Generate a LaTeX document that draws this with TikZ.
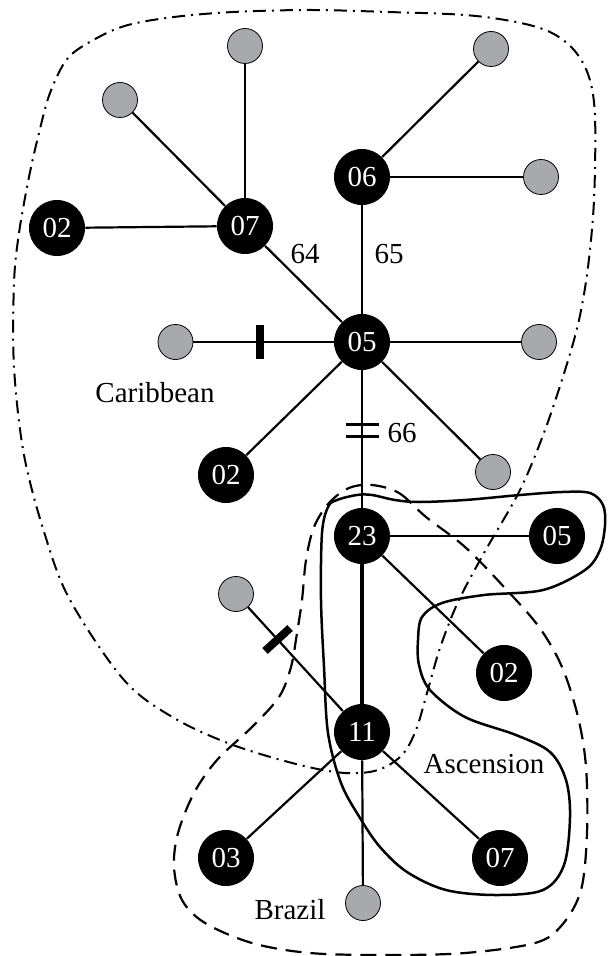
\documentclass[tikz,border=0pt]{standalone}
\usepackage{fontspec}
\setmainfont{Liberation Serif}
\definecolor{haplogray}{HTML}{A7A9AC}
\begin{document}
\begin{tikzpicture}[x=0.5pt, y=-0.5pt,
  hap/.style={circle, fill=black, text=white, minimum size=28pt, inner sep=0pt,
    font=\fontsize{14.5}{14.5}\selectfont},
  miss/.style={circle, draw=black, line width=0.4pt, fill=haplogray,
    minimum size=17.5pt, inner sep=0pt},
  link/.style={line width=1.1pt},
  stem/.style={line width=2.3pt},
  tickbar/.style={fill=black, inner sep=0pt, minimum width=4pt, minimum height=17pt, sloped},
  thinbar/.style={fill=black, inner sep=0pt, minimum width=1.4pt, minimum height=16.5pt, sloped},
  lbl/.style={font=\fontsize{14.5}{14.5}\selectfont, inner sep=0pt},
  dashdotline/.style={line width=1pt, dash pattern=on 6.5pt off 3pt on 1pt off 3pt},
  dashline/.style={line width=1.1pt, dash pattern=on 8pt off 4.5pt},
  solidline/.style={line width=1.25pt}
]
\useasboundingbox (0,0) rectangle (607,956);

% Caribbean region (dash-dot)
\draw[dashdotline] plot[smooth cycle, tension=0.55] coordinates {
  (14,283) (19,233) (29,177) (39,133) (50,93) (68,58) (97,38) (128,25) (174,17)
  (233,12) (310,10) (388,12) (465,15) (516,22) (550,32) (574,50) (589,77)
  (595,117) (594,200) (588,267) (579,320) (566,367) (545,430) (520,490)
  (484,553) (458,602) (440,648) (427,693) (416,730) (402,755) (378,770)
  (345,773) (300,765) (233,745) (174,718) (124,680) (70,600) (45,535)
  (24,455) (14,367)};

% Brazil region (dashed)
\draw[dashline] plot[smooth cycle, tension=0.55] coordinates {
  (372,485) (399,493) (426,517) (465,547) (504,587) (539,627) (562,667)
  (578,717) (586,767) (587,833) (581,890) (562,925) (535,943) (465,953)
  (388,955) (310,953) (252,943) (205,923) (182,900) (174,867) (178,833)
  (194,793) (217,760) (252,727) (279,697) (291,667) (297,633) (302,600)
  (306,560) (314,527) (329,503) (349,488)};

% Ascension region (solid)
\draw[solidline] plot[smooth cycle, tension=0.55] coordinates {
  (337,500) (357,495) (372,495) (395,500) (419,502) (465,500) (520,495)
  (562,492) (590,493) (603,505) (605,525) (600,550) (585,570) (543,590)
  (484,595) (442,603) (422,617) (418,640) (419,665) (430,690) (465,717)
  (516,735) (550,752) (566,780) (570,817) (564,865) (543,890) (496,895)
  (446,890) (407,872) (380,847) (360,818) (341,783) (328,733) (324,667)
  (321,600) (322,533) (328,507)};

% haplotypes
\node[hap] (h07a) at (245,226) {07};
\node[hap] (h02a) at (57,228) {02};
\node[hap] (h06)  at (362,177) {06};
\node[hap] (h05a) at (362,342) {05};
\node[hap] (h02b) at (226,475) {02};
\node[hap] (h23)  at (362,536) {23};
\node[hap] (h05b) at (557,536) {05};
\node[hap] (h02c) at (504,673) {02};
\node[hap] (h11)  at (362,732) {11};
\node[hap] (h03)  at (226,858) {03};
\node[hap] (h07b) at (500,858) {07};

% missing / unsampled haplotypes
\node[miss] (m1) at (245,46) {};
\node[miss] (m2) at (120,100) {};
\node[miss] (m3) at (491,49) {};
\node[miss] (m4) at (541,177) {};
\node[miss] (m5) at (175.5,342) {};
\node[miss] (m6) at (539,342) {};
\node[miss] (m7) at (493,472) {};
\node[miss] (m8) at (236,594) {};
\node[miss] (m9) at (363,903) {};

% network links
\draw[link] (h02a) -- (h07a);
\draw[link] (m1) -- (h07a);
\draw[link] (m2) -- (h07a);
\draw[link] (h07a) -- (h05a);
\draw[link] (m3) -- (h06);
\draw[link] (h06) -- (m4);
\draw[link] (h06) -- (h05a);
\draw[link] (m5) -- node[tickbar, pos=0.475] {} (h05a);
\draw[link] (h05a) -- (m6);
\draw[link] (h05a) -- (h02b);
\draw[link] (h05a) -- (m7);
\draw[link] (h05a) -- node[thinbar, pos=0.394] {} node[thinbar, pos=0.482] {} (h23);
\draw[link] (h23) -- (h05b);
\draw[link] (h23) -- (h02c);
\draw[stem] (h23) -- (h11);
\draw[link] (m8) -- node[tickbar, pos=0.311] {} (h11);
\draw[link] (h11) -- (h03);
\draw[link] (h11) -- (h07b);
\draw[link] (h11) -- (m9);

% mutation step labels
\node[lbl] (s64) at (305,254) {64};
\node[lbl] (s65) at (389,254) {65};
\node[lbl] (s66) at (402,433) {66};

% region labels
\node[lbl] (carib) at (155,393) {Caribbean};
\node[lbl] (ascen) at (484,764) {Ascension};
\node[lbl] (braz)  at (290,910) {Brazil};
\end{tikzpicture}
\end{document}
